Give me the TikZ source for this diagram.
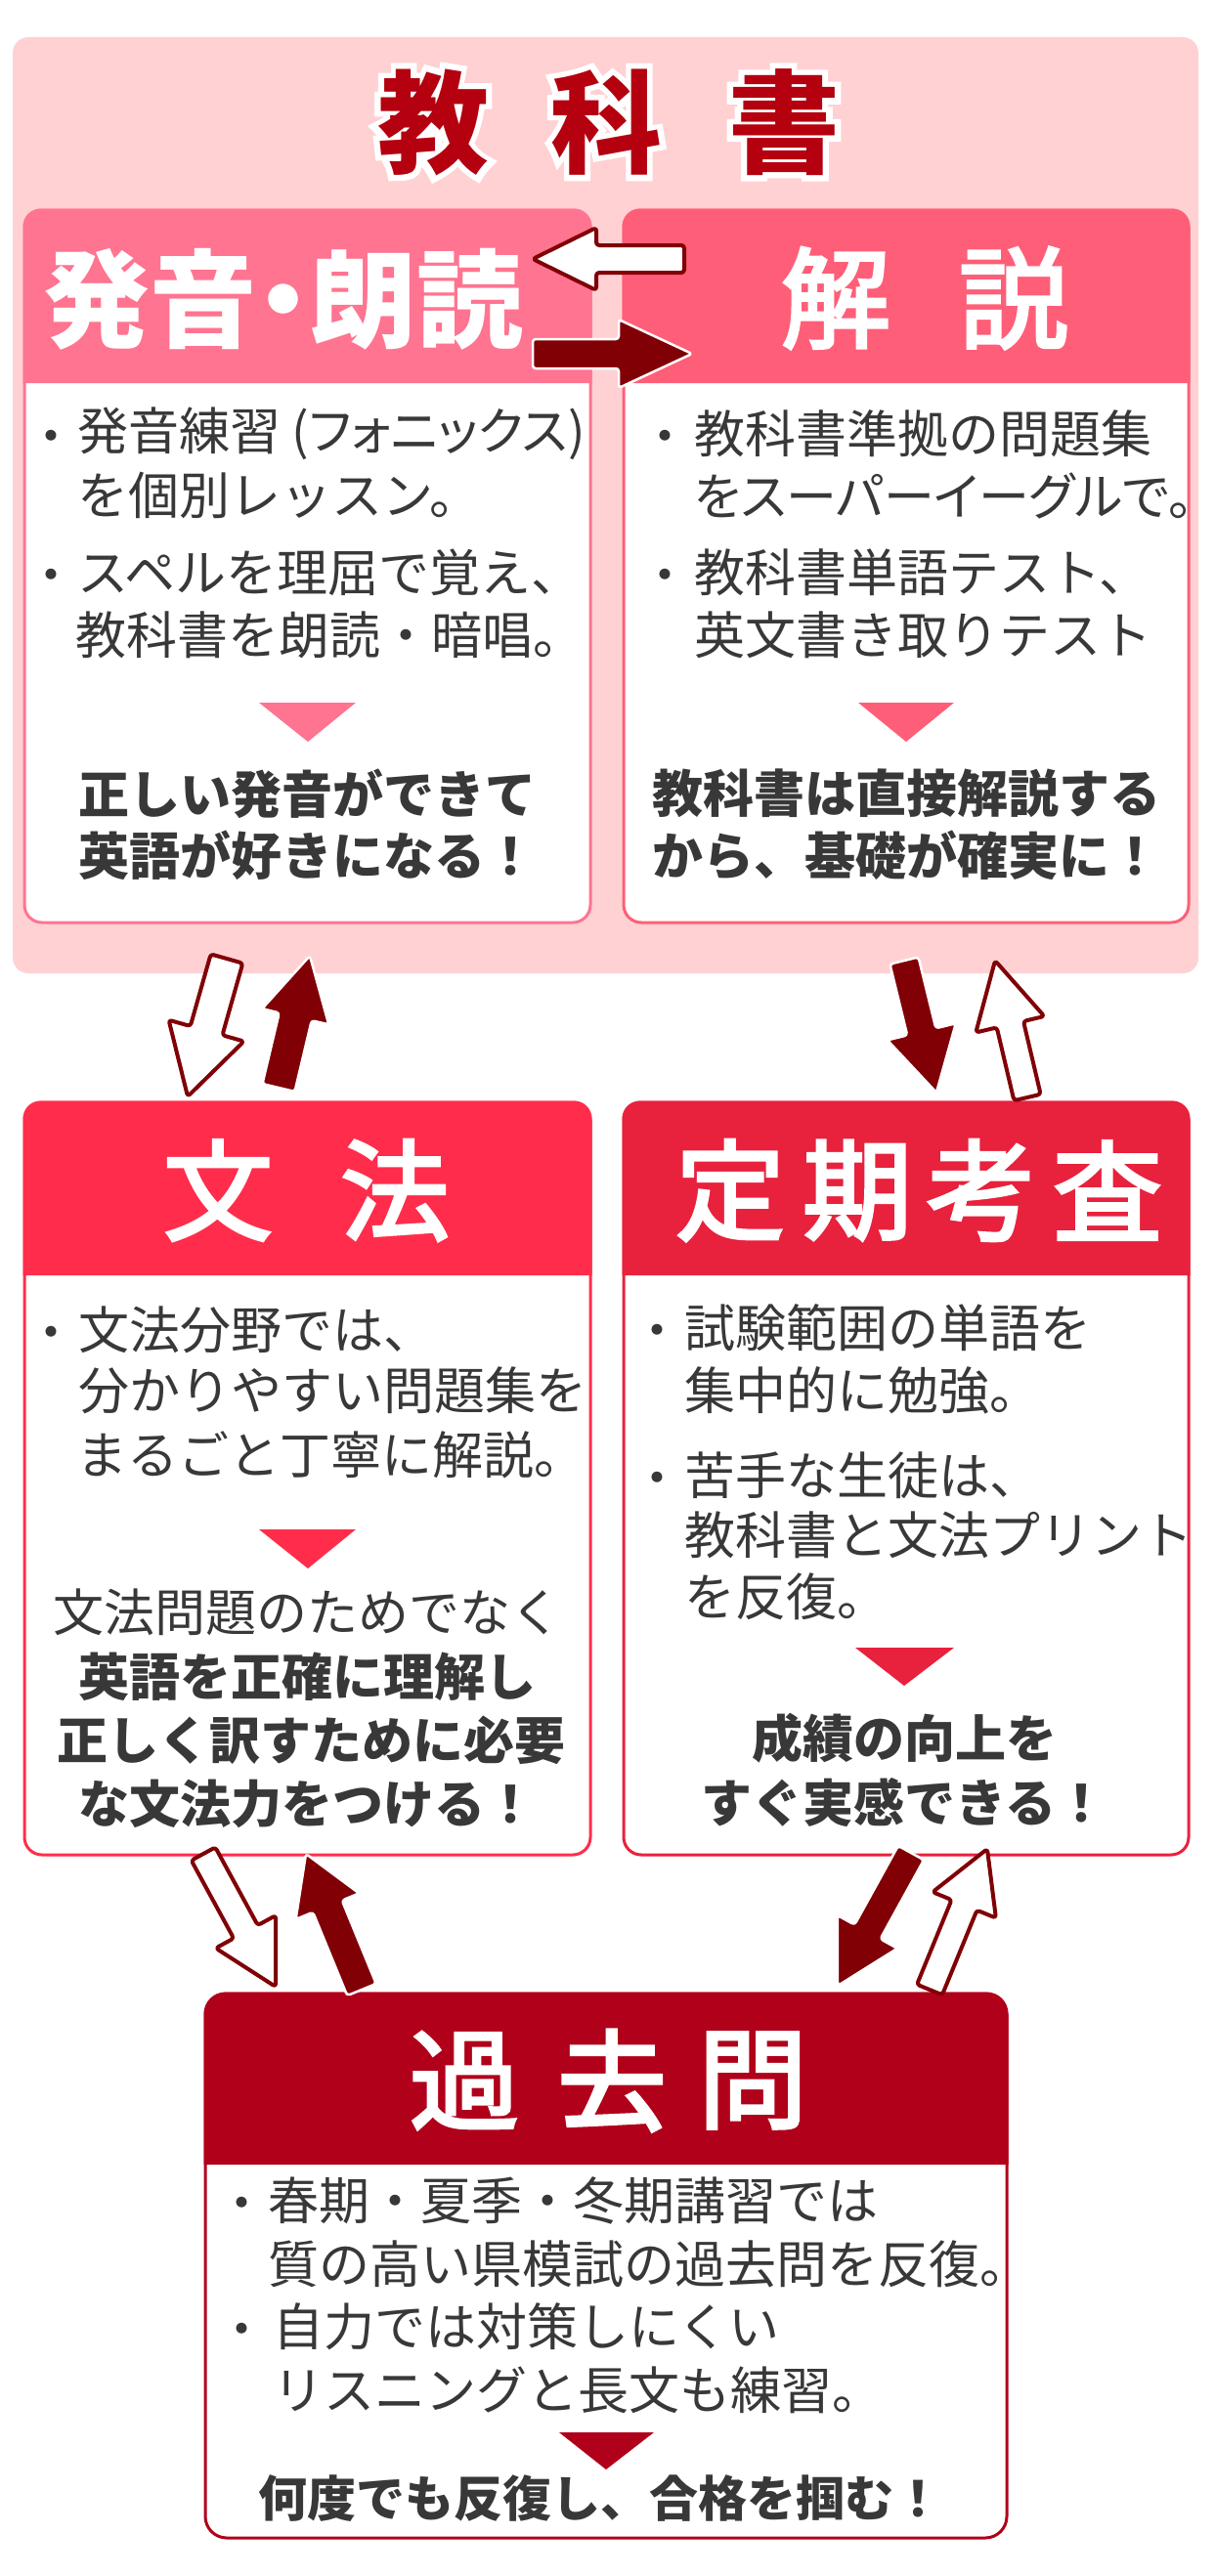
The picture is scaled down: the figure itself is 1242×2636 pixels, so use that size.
\documentclass[tikz,border=0pt]{standalone}
\usepackage{fontspec}
\setmainfont{Noto Sans CJK JP}
\newfontfamily\jpp{Noto Sans CJK JP}[RawFeature=+palt]
\newfontfamily\jpm{Noto Sans CJK JP}[FakeBold=3]
\newfontfamily\jpo{Noto Sans CJK JP Bold}[FakeBold=12]
\usetikzlibrary{calc}
\definecolor{bgpink}{HTML}{FFD1D3}
\definecolor{hdrA}{HTML}{FF7490}
\definecolor{hdrB}{HTML}{FF5E78}
\definecolor{redC}{HTML}{FF2D4B}
\definecolor{redD}{HTML}{E8213D}
\definecolor{redE}{HTML}{B0001A}
\definecolor{arrred}{HTML}{800006}
\definecolor{ttlred}{HTML}{B4000F}
\definecolor{txtgray}{HTML}{383838}
\tikzset{
  every node/.style={inner sep=0pt, outer sep=0pt},
  body/.style={anchor=west, text=txtgray, font=\fontsize{52}{62}\selectfont},
  bodyp/.style={anchor=west, text=txtgray, font=\jpp\fontsize{52}{62}\selectfont},
  bodyc/.style={anchor=center, text=txtgray, font=\fontsize{52}{62}\selectfont},
  concl/.style={anchor=center, text=txtgray, font=\bfseries\fontsize{52}{62}\selectfont},
  bullet/.style={anchor=center, yshift=-9pt, text=txtgray, font=\fontsize{52}{62}\selectfont},
  hdr/.style={anchor=center, text=white, font=\jpm\fontsize{112}{120}\selectfont},
  hdrb/.style={anchor=center, text=white, font=\jpp\bfseries\fontsize{109}{120}\selectfont},
  ttl/.style={anchor=center, text=ttlred, font=\bfseries\fontsize{114}{120}\selectfont},
  ttlo/.style={anchor=center, text=white, font=\jpo\fontsize{114}{120}\selectfont},
  whitearrow/.style={fill=white, draw=arrred, line width=4, rounded corners=3, line join=round},
  redarrow/.style={fill=arrred, draw=white, line width=2.5, rounded corners=3, line join=round},
}
\newcommand\cardbox[7]{% x1 y1 x2 yh y2 color radius
  \draw[#6, line width=3, fill=white, rounded corners=#7] (#1,#2) rectangle (#3,#5);
  \fill[#6] ({#1-1.5},#4) [rounded corners=#7] -- ({#1-1.5},{#2-1.5}) -- ({#3+1.5},{#2-1.5}) [sharp corners] -- ({#3+1.5},#4) -- cycle;
}
\newcommand\blockarrow[6]{% style, tail, tip, half shaft, half head, head length
  \path let \p1=(#2), \p2=(#3) in \pgfextra{%
    \pgfmathsetmacro\tmpang{atan2(\y2-\y1,\x2-\x1)}\global\let\baang\tmpang
    \pgfmathsetmacro\tmplen{veclen(\x2-\x1,\y2-\y1)}\global\let\balen\tmplen};
  \begin{scope}[shift={(#2)}, rotate=\baang]
    \draw[#1] (0,#4) -- ({\balen-#6},#4) -- ({\balen-#6},#5) -- (\balen,0)
      -- ({\balen-#6},-#5) -- ({\balen-#6},-#4) -- (0,-#4) -- cycle;
  \end{scope}}
\begin{document}
\begin{tikzpicture}[x=1pt, y=-1pt]
\useasboundingbox (0,0) rectangle (1242,2636);
\fill[white] (0,0) rectangle (1242,2636);
% pink background
\fill[bgpink, rounded corners=16] (13,38) rectangle (1226,996);
% title with white outline
\node[ttlo] (tAo) at (443,125) {教};
\node[ttlo] (tBo) at (620,125) {科};
\node[ttlo] (tCo) at (802,125) {書};
\node[ttl] (tA) at (443,125) {教};
\node[ttl] (tB) at (620,125) {科};
\node[ttl] (tC) at (802,125) {書};
% boxes
\cardbox{25}{215}{604}{392}{944}{hdrA}{18}
\cardbox{638}{215}{1216}{392}{944}{hdrB}{18}
\cardbox{25}{1128}{604}{1305}{1898}{redC}{18}
\cardbox{638}{1128}{1216}{1305}{1898}{redD}{18}
\cardbox{210}{2040}{1030}{2215}{2597}{redE}{22}
% headers
\node[hdrb] (hA) at (290,306) {発音・朗読};
\node[hdr] (hB1) at (855,305) {解};
\node[hdr] (hB2) at (1037,305) {説};
\node[hdr] (hC1) at (223,1218) {文};
\node[hdr] (hC2) at (404,1218) {法};
\node[hdr] (hD1) at (747,1218) {定};
\node[hdr] (hD2) at (877,1218) {期};
\node[hdr] (hD3) at (1004,1218) {考};
\node[hdr] (hD4) at (1133,1218) {査};
\node[hdr] (hE1) at (475,2129) {過};
\node[hdr] (hE2) at (626,2129) {去};
\node[hdr] (hE3) at (770,2129) {問};
% box A body
\node[bullet] (aB1) at (52,444) {・};
\node[bodyp] (a1) at (79,444) {発音練習 (フォニックス)};
\node[body] (a2) at (79,507) {を個別レッスン。};
\node[bullet] (aB2) at (52,586) {・};
\node[body] (a3) at (79,586) {スペルを理屈で覚え、};
\node[body] (a4) at (77,650) {教科書を朗読・暗唱。};
\fill[hdrA] (265,719) -- (364,719) -- (315,759) -- cycle;
\node[concl] (a5) at (314,812) {正しい発音ができて};
\node[concl] (a6) at (314,875) {英語が好きになる！};
% box B body
\node[bullet] (bB1) at (680,444) {・};
\node[body] (b1) at (710,444) {教科書準拠の問題集};
\node[bodyp] (b2) at (710,507) {をスーパーイーグルで。};
\node[bullet] (bB2) at (680,586) {・};
\node[body] (b3) at (710,586) {教科書単語テスト、};
\node[body] (b4) at (710,650) {英文書き取りテスト};
\fill[hdrB] (878,719) -- (976,719) -- (927,759) -- cycle;
\node[concl] (b5) at (927,812) {教科書は直接解説する};
\node[concl] (b6) at (927,875) {から、基礎が確実に！};
% box C body
\node[bullet] (cB1) at (52,1361) {・};
\node[body] (c1) at (80,1361) {文法分野では、};
\node[body] (c2) at (80,1423) {分かりやすい問題集を};
\node[body] (c3) at (78,1489) {まるごと丁寧に解説。};
\fill[redC] (265,1565) -- (364,1565) -- (315,1605) -- cycle;
\node[bodyc] (c4) at (314,1650) {文法問題のためでなく};
\node[concl] (c5) at (314,1716) {英語を正確に理解し};
\node[concl] (c6) at (318,1781) {正しく訳すために必要};
\node[concl] (c7) at (314,1846) {な文法力をつける！};
% box D body
\node[bullet] (dB1) at (672,1359) {・};
\node[body] (d1) at (700,1359) {試験範囲の単語を};
\node[body] (d2) at (700,1423) {集中的に勉強。};
\node[bullet] (dB2) at (672,1510) {・};
\node[body] (d3) at (700,1510) {苦手な生徒は、};
\node[body] (d4) at (700,1571) {教科書と文法プリント};
\node[body] (d5) at (700,1634) {を反復。};
\fill[redD] (875,1686) -- (976,1686) -- (925,1725) -- cycle;
\node[concl] (d6) at (925,1779) {成績の向上を};
\node[concl] (d7) at (925,1844) {すぐ実感できる！};
% box E body
\node[bullet] (eB1) at (247,2252) {・};
\node[body] (e1) at (274,2252) {春期・夏季・冬期講習では};
\node[body] (e2) at (274,2317) {質の高い県模試の過去問を反復。};
\node[bullet] (eB2) at (247,2381) {・};
\node[body] (e3) at (279,2381) {自力では対策しにくい};
\node[body] (e4) at (279,2446) {リスニングと長文も練習。};
\fill[redE] (572,2489) -- (669,2489) -- (620,2527) -- cycle;
\node[concl, font=\bfseries\fontsize{50}{60}\selectfont] (e5) at (614,2556) {何度でも反復し、合格を掴む！};
% arrow coordinates
\coordinate (ha1) at (700,265); \coordinate (ha2) at (545,265);
\coordinate (hb1) at (545,362); \coordinate (hb2) at (708,362);
\coordinate (v1s) at (232,981); \coordinate (v1e) at (192,1122);
\coordinate (v2s) at (285,1113); \coordinate (v2e) at (317,978);
\coordinate (v3s) at (925,983); \coordinate (v3e) at (958,1118);
\coordinate (v4s) at (1051,1123); \coordinate (v4e) at (1018,983);
\coordinate (v5s) at (208,1897); \coordinate (v5e) at (282,2033);
\coordinate (v6s) at (370,2036); \coordinate (v6e) at (313,1897);
\coordinate (v7s) at (932,1896); \coordinate (v7e) at (857,2032);
\coordinate (v8s) at (951,2036); \coordinate (v8e) at (1010,1892);
% arrows
\blockarrow{whitearrow}{ha1}{ha2}{14}{32}{65}
\blockarrow{redarrow}{hb1}{hb2}{15}{35}{75}
\blockarrow{whitearrow}{v1s}{v1e}{17}{40}{70}
\blockarrow{redarrow}{v2s}{v2e}{17}{35}{64}
\blockarrow{redarrow}{v3s}{v3e}{15}{36}{64}
\blockarrow{whitearrow}{v4s}{v4e}{14}{36}{67}
\blockarrow{whitearrow}{v5s}{v5e}{14}{35}{64}
\blockarrow{redarrow}{v6s}{v6e}{16}{35}{58}
\blockarrow{redarrow}{v7s}{v7e}{15}{35}{63}
\blockarrow{whitearrow}{v8s}{v8e}{14}{35}{62}
\end{tikzpicture}
\end{document}
